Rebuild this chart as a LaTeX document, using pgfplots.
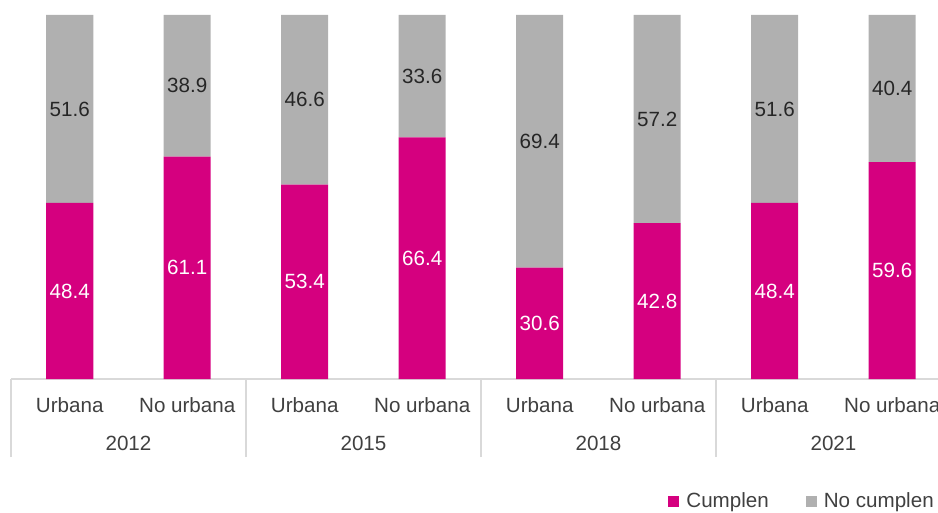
\documentclass[border=0pt]{standalone}
\usepackage{pgfplots}
\pgfplotsset{compat=1.18}
\usepackage{fontspec}
\setmainfont{Liberation Sans}
\definecolor{mag}{HTML}{D5007F}
\definecolor{gry}{HTML}{B0B0B0}
\definecolor{sep}{HTML}{D9D9D9}
\definecolor{txt}{HTML}{404040}
\begin{document}
\fontsize{20.6pt}{24pt}\selectfont
\begin{tikzpicture}
\begin{axis}[name=main,
  scale only axis, width=940pt, height=364pt,
  xmin=-0.5, xmax=7.5, ymin=0, ymax=100,
  ybar stacked, bar width=47pt,
  axis y line=none, axis x line*=bottom,
  x axis line style={sep, line width=1.5pt},
  xtick={0,1,2,3,4,5,6,7},
  xticklabels={Urbana,No urbana,Urbana,No urbana,Urbana,No urbana,Urbana,No urbana},
  major tick length=0pt,
  xticklabel style={anchor=base, yshift=-33.4pt, text=txt},
  minor xtick={-0.5,1.5,3.5,5.5},
  minor tick length=78pt, tick align=outside, xtick pos=bottom,
  minor tick style={sep, line width=1.5pt},
  extra x ticks={0.5,2.5,4.5,6.5},
  extra x tick labels={2012,2015,2018,2021},
  extra x tick style={major tick length=0pt, xticklabel style={yshift=-38pt}},
  legend columns=2,
  legend style={draw=none, fill=none, at={(0.984,-0.338)}, anchor=east,
    inner xsep=0pt, inner ysep=0pt, text=txt,
    /tikz/every even column/.append style={column sep=35pt}},
  legend image code/.code={\fill[#1] (0pt,-4.5pt) rectangle (11pt,6.5pt); \path (16pt,0pt);},
  clip=false,
]
\addplot[fill=mag, draw=none] coordinates {(0,48.4) (1,61.1) (2,53.4) (3,66.4) (4,30.6) (5,42.8) (6,48.4) (7,59.6)};
\addlegendentry{Cumplen}
\addplot[fill=gry, draw=none] coordinates {(0,51.6) (1,38.9) (2,46.6) (3,33.6) (4,69.4) (5,57.2) (6,51.6) (7,40.4)};
\addlegendentry{No cumplen}
\end{axis}
\begin{axis}[
  scale only axis, width=940pt, height=364pt,
  xmin=-0.5, xmax=7.5, ymin=0, ymax=100,
  hide axis, clip=false,
  nodes near coords, point meta=explicit symbolic,
]
\addplot[draw=none, nodes near coords, every node near coord/.append style={anchor=center, text=white}]
  coordinates {(0,24.2)[48.4] (1,30.55)[61.1] (2,26.7)[53.4] (3,33.2)[66.4] (4,15.3)[30.6] (5,21.4)[42.8] (6,24.2)[48.4] (7,29.8)[59.6]};
\addplot[draw=none, nodes near coords, every node near coord/.append style={anchor=center, text=black!85}]
  coordinates {(0,74.2)[51.6] (1,80.55)[38.9] (2,76.7)[46.6] (3,83.2)[33.6] (4,65.3)[69.4] (5,71.4)[57.2] (6,74.2)[51.6] (7,79.8)[40.4]};
\end{axis}
\pgfresetboundingbox
\useasboundingbox ([shift={(-11pt,-133pt)}]main.south west) rectangle ++(938pt,512pt);
\end{tikzpicture}
\end{document}
